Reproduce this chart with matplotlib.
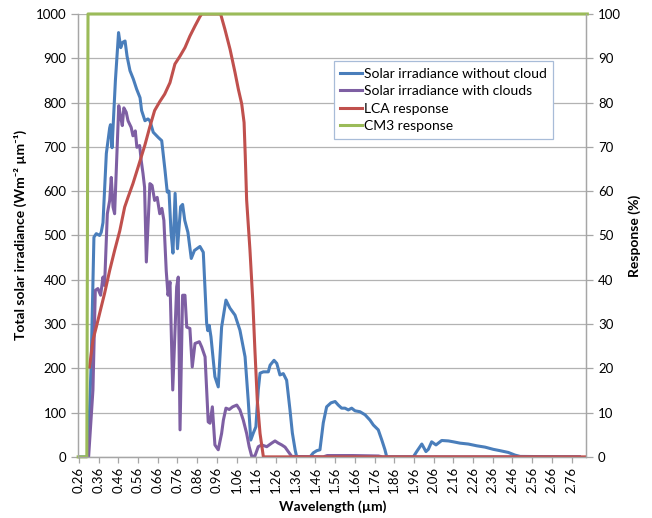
import numpy as np
import matplotlib
matplotlib.use("Agg")
import matplotlib.pyplot as plt

plt.rcParams['font.family'] = ['Lato', 'DejaVu Sans']

# wavelength (um) / irradiance (W m-2 um-1), clear sky
blue_wl = [0.256, 0.301, 0.306, 0.322, 0.336, 0.348, 0.365, 0.373, 0.382, 0.399, 0.416, 0.420,
           0.428, 0.445, 0.461, 0.472, 0.482, 0.494, 0.504, 0.519, 0.536, 0.553, 0.570, 0.578,
           0.595, 0.610, 0.620, 0.637, 0.663, 0.680, 0.697, 0.708, 0.717, 0.727, 0.737, 0.748,
           0.760, 0.776, 0.786, 0.797, 0.813, 0.830, 0.846, 0.874, 0.891, 0.908, 0.914, 0.921,
           0.930, 0.950, 0.967, 0.984, 1.006, 1.026, 1.052, 1.077, 1.103, 1.119, 1.132, 1.145,
           1.158, 1.170, 1.179, 1.196, 1.221, 1.230, 1.250, 1.264, 1.280, 1.297, 1.314, 1.331,
           1.343, 1.357, 1.365, 1.433, 1.449, 1.467, 1.483, 1.500, 1.517, 1.539, 1.560, 1.576,
           1.593, 1.610, 1.627, 1.644, 1.661, 1.686, 1.712, 1.737, 1.754, 1.779, 1.797, 1.813,
           1.822, 1.957, 1.974, 2.000, 2.021, 2.033, 2.050, 2.072, 2.101, 2.135, 2.160, 2.194,
           2.236, 2.279, 2.321, 2.363, 2.397, 2.439, 2.473, 2.499, 2.800]
blue_val = [0, 0, 0, 211, 496, 504, 500, 507, 529, 685, 743, 750,
            698, 850, 958, 924, 936, 939, 905, 872, 853, 830, 811, 782,
            759, 763, 759, 733, 721, 714, 646, 598, 600, 510, 460, 595,
            470, 565, 570, 534, 507, 448, 466, 475, 462, 302, 285, 297,
            271, 181, 158, 293, 354, 336, 320, 286, 226, 128, 38, 54,
            68, 151, 189, 192, 192, 207, 218, 211, 185, 188, 173, 106,
            54, 16, 0, 0, 9, 14, 16, 77, 113, 122, 125, 117,
            110, 110, 106, 110, 104, 102, 95, 83, 72, 61, 38, 16,
            0, 0, 12, 29, 12, 17, 34, 27, 37, 36, 34, 31,
            29, 25, 22, 17, 14, 10, 4, 1, 0]

# irradiance with clouds
purple_wl = [0.309, 0.331, 0.343, 0.356, 0.370, 0.382, 0.390, 0.404, 0.416, 0.424, 0.433, 0.441,
             0.462, 0.472, 0.480, 0.488, 0.500, 0.509, 0.525, 0.534, 0.546, 0.554, 0.568, 0.576,
             0.585, 0.593, 0.602, 0.620, 0.631, 0.644, 0.657, 0.670, 0.681, 0.691, 0.703, 0.712,
             0.722, 0.736, 0.756, 0.764, 0.773, 0.786, 0.798, 0.807, 0.823, 0.835, 0.849, 0.871,
             0.883, 0.900, 0.916, 0.925, 0.937, 0.950, 0.967, 0.984, 0.993, 1.006, 1.023, 1.040,
             1.061, 1.077, 1.094, 1.111, 1.124, 1.137, 1.153, 1.170, 1.187, 1.213, 1.238, 1.255,
             1.272, 1.289, 1.306, 1.322, 1.340, 1.500, 1.520, 1.650, 1.780, 1.800, 2.800]
purple_val = [0, 151, 376, 380, 365, 406, 387, 549, 579, 631, 564, 549,
              793, 766, 748, 788, 778, 759, 744, 725, 736, 699, 703, 669,
              640, 609, 440, 617, 613, 579, 586, 549, 561, 534, 420, 365,
              395, 151, 384, 406, 61, 365, 365, 293, 290, 203, 256, 260,
              248, 226, 79, 76, 113, 27, 16, 53, 83, 110, 107, 113,
              117, 106, 83, 53, 23, 1, 2, 23, 27, 23, 31, 36,
              31, 27, 22, 12, 1, 0, 3, 3, 2, 0, 0]

# LCA response (%)
lca_wl = [0.314, 0.331, 0.348, 0.365, 0.390, 0.416, 0.441, 0.467, 0.492, 0.509, 0.534, 0.560,
          0.594, 0.619, 0.644, 0.670, 0.695, 0.722, 0.747, 0.773, 0.798, 0.823, 0.849, 0.874,
          0.883, 0.979, 1.001, 1.027, 1.052, 1.069, 1.086, 1.098, 1.104, 1.111, 1.128, 1.142,
          1.153, 1.165, 1.179, 1.196, 2.840]
lca_val = [20.3, 26.4, 29.3, 32.4, 36.9, 42.1, 46.6, 51.0, 56.4, 58.6, 61.7, 65.4,
           70.3, 74.4, 78.2, 80.2, 81.9, 84.5, 88.7, 90.5, 92.4, 95.0, 97.3, 99.4,
           100, 100, 96.5, 92.0, 86.8, 83.0, 79.7, 75.5, 68.0, 58.0, 46.6, 35.4,
           24.1, 12.8, 5.3, 0, 0]

# CM3 response (%)
cm3_wl = [0.256, 0.300, 0.306, 2.840]
cm3_val = [0, 0, 100, 100]

xtick_vals = np.round(np.arange(0.26, 2.77, 0.1), 2)
xtick_labels = [f"{v:.2f}" for v in xtick_vals]

fig = plt.figure(figsize=(6.52, 5.18), dpi=100)
ax = fig.add_axes([0.120, 0.118, 0.779, 0.855])
ax2 = ax.twinx()

grid_c = '#b3b3b3'
axis_c = '#a6a6a6'

l1, = ax.plot(blue_wl, blue_val, color='#4a7ebb', lw=2.2, label='Solar irradiance without cloud')
l2, = ax.plot(purple_wl, purple_val, color='#7e5fa3', lw=2.2, label='Solar irradiance with clouds')
l3, = ax2.plot(lca_wl, lca_val, color='#c0504d', lw=2.2, label='LCA response')
l4, = ax2.plot(cm3_wl, cm3_val, color='#9bbb59', lw=2.2, label='CM3 response', clip_on=False)

ax.set_xlim(0.2564, 2.834)
ax.set_ylim(0, 1000)
ax2.set_ylim(0, 100)
ax.set_yticks(np.arange(0, 1001, 100))
ax2.set_yticks(np.arange(0, 101, 10))
ax.set_xticks(xtick_vals)
ax.set_xticklabels(xtick_labels, rotation=90)

ax.yaxis.grid(True, color=grid_c, lw=0.9)
ax.set_axisbelow(True)

for a in (ax, ax2):
    a.spines['top'].set_visible(False)
    for s in ('left', 'right', 'bottom'):
        a.spines[s].set_color(axis_c)
        a.spines[s].set_linewidth(0.9)
    a.tick_params(colors=axis_c, labelcolor='black', labelsize=9.5, length=5, width=0.9)
ax.tick_params(axis='x', length=4, pad=3)

ax.set_xlabel('Wavelength (µm)', fontweight='bold', fontsize=10, labelpad=5)
ax.set_ylabel('Total solar irradiance (Wm⁻² µm⁻¹)', fontweight='bold', fontsize=10, labelpad=6)
ax2.set_ylabel('Response (%)', fontweight='bold', fontsize=10, labelpad=5)

leg = ax2.legend(handles=[l1, l2, l3, l4], loc='upper left', bbox_to_anchor=(0.503, 0.893),
                 fontsize=10, handlelength=1.6, handletextpad=0.15, labelspacing=0.4,
                 borderpad=0.45, borderaxespad=0, fancybox=False, framealpha=1,
                 edgecolor='#a8bcd8')
leg.get_frame().set_linewidth(0.9)

fig.savefig('out.png', dpi=100)
